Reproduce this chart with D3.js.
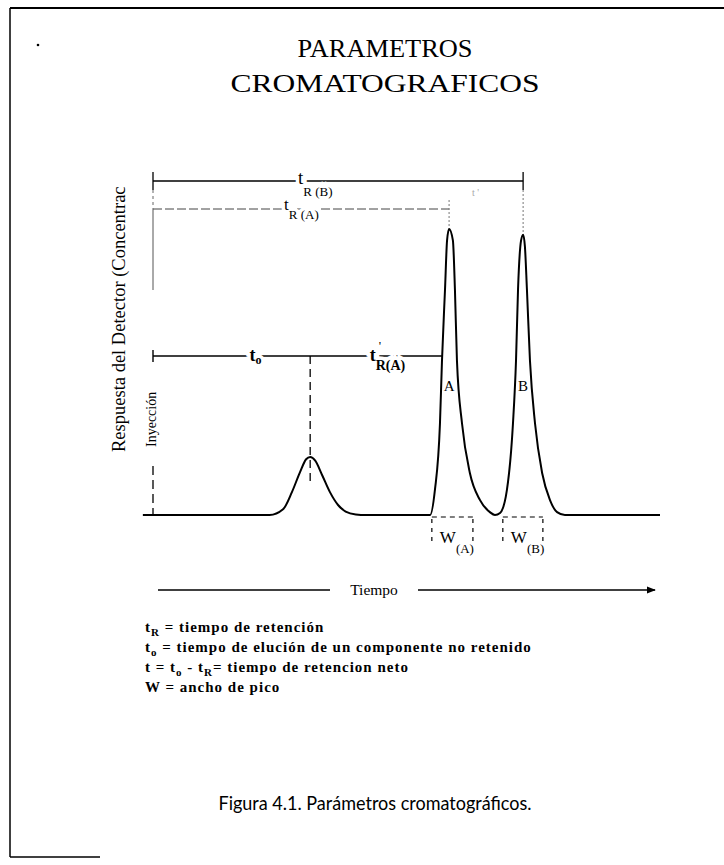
<!DOCTYPE html>
<html>
<head>
<meta charset="utf-8">
<script src="https://cdn.jsdelivr.net/npm/d3@7"></script>
<style>
  body { margin: 0; background: #fff; }
</style>
</head>
<body>
<div id="chart"></div>
<script>
// detector trace: time (arbitrary units) and response (% of peak A)
const traceTime = [-0.4, 4.6, 5.13, 5.48, 5.8, 6.04, 6.2, 6.4, 6.67, 6.98, 7.3, 7.6, 8.0, 8.4,
    10.73, 10.93, 11.12, 11.32, 11.40, 11.52, 11.60, 11.68, 11.83, 11.91, 11.99, 12.19, 12.50, 12.90, 13.29, 13.49,
    13.69, 13.96, 14.20, 14.32, 14.40, 14.52, 14.60, 14.67, 14.75, 14.87, 15.07, 15.35, 15.66, 15.94, 16.25, 20];
const traceResp = [0, 0, 2, 8, 15, 19.5, 20.3, 19, 14, 8, 3.5, 1.2, 0.2, 0,
    0, 0, 8.7, 32, 54, 79, 96, 100, 96, 79, 54, 32, 14.7, 5.2, 1, 0,
    0.7, 8.7, 32, 54, 79, 96, 98, 94, 79, 54, 32, 14.7, 5.2, 1, 0, 0];

// peaks: unretained component, A and B
const peakNames = ["o", "A", "B"];
const peakTimes = [6.2, 11.68, 14.6];
const peakHeights = [20.3, 100, 98];

// peak widths at the base (tangent intercepts)
const widthNames = ["A", "B"];
const widthStart = [11.0, 13.8];
const widthEnd = [12.62, 15.38];

const titleLines = ["PARAMETROS", "CROMATOGRAFICOS"];
const yLabel = "Respuesta del Detector (Concentración)";
const xLabel = "Tiempo";
const injectLabel = "Inyección";
const caption = "Figura 4.1. Parámetros cromatográficos.";

// legend: [text, isSubscript]
const legendLines = [
    [["t", 0], ["R", 1], [" = tiempo de retención", 0]],
    [["t", 0], ["o", 1], [" = tiempo de elución de un componente no retenido", 0]],
    [[" t  = t", 0], ["o", 1], [" - t", 0], ["R", 1], ["= tiempo de retencion neto", 0]],
    [["W =  ancho de pico", 0]]
];

const width = 724, height = 865;
const serif = "'Liberation Serif', 'Times New Roman', serif";

const svg = d3.select("#chart").append("svg")
    .attr("width", width)
    .attr("height", height);

const x = d3.scaleLinear().domain([0, 20]).range([153, 660]);
const y = d3.scaleLinear().domain([0, 100]).range([515, 229]);

// frame (scan has only top, left and a bit of bottom)
svg.append("line").attr("x1", 10).attr("y1", 8).attr("x2", 724).attr("y2", 8)
    .attr("stroke", "#000").attr("stroke-width", 2);
svg.append("line").attr("x1", 10).attr("y1", 8).attr("x2", 10).attr("y2", 857)
    .attr("stroke", "#000").attr("stroke-width", 1.5);
svg.append("line").attr("x1", 10).attr("y1", 857).attr("x2", 100).attr("y2", 857)
    .attr("stroke", "#000").attr("stroke-width", 1.5);
svg.append("circle").attr("cx", 38).attr("cy", 45).attr("r", 1.3).attr("fill", "#000");

// title
svg.selectAll(".title").data(titleLines).enter().append("text")
    .attr("class", "title")
    .attr("x", 385)
    .attr("y", (d, i) => 57 + i * 35)
    .attr("text-anchor", "middle")
    .attr("textLength", (d, i) => i == 0 ? 175 : 309)
    .attr("lengthAdjust", "spacingAndGlyphs")
    .style("font-family", serif)
    .style("font-size", "26px")
    .text(d => d);

// y label, cut at the top like the scan
svg.append("clipPath").attr("id", "ycut")
    .append("rect").attr("x", 90).attr("y", 186).attr("width", 50).attr("height", 300);
svg.append("g")
    .attr("clip-path", "url(#ycut)")
    .append("text")
    .attr("transform", "translate(125,452) rotate(-90)")
    .style("font-family", serif)
    .style("font-size", "18.5px")
    .text(yLabel);

// helper for "t" with a subscript, optional white halo drawn underneath
function subText(sel, px, py, main, sub, size, subSize, drop, halo, weight) {
    const layers = halo ? ["halo", "ink"] : ["ink"];
    let t;
    layers.forEach(layer => {
        t = sel.append("text")
            .attr("x", px).attr("y", py)
            .style("font-family", serif)
            .style("font-weight", weight || "normal")
            .style("font-size", size + "px");
        if (layer == "halo") t.attr("fill", "#fff").attr("stroke", "#fff").attr("stroke-width", 7);
        t.append("tspan").text(main);
        t.append("tspan").attr("dy", drop).style("font-size", subSize + "px").text(sub);
    });
    return t;
}

const tA = peakTimes[1], tB = peakTimes[2], t0 = peakTimes[0];

// retention brackets
const rbY = 181, raY = 209, t0Y = 356;
svg.append("line").attr("x1", x(0)).attr("x2", x(tB)).attr("y1", rbY).attr("y2", rbY)
    .attr("stroke", "#000").attr("stroke-width", 1.3);
svg.append("line").attr("x1", x(0)).attr("x2", x(tA)).attr("y1", raY).attr("y2", raY)
    .attr("stroke", "#444").attr("stroke-width", 1).attr("stroke-dasharray", "9,3");
svg.append("line").attr("x1", x(0)).attr("x2", x(11.4)).attr("y1", t0Y).attr("y2", t0Y)
    .attr("stroke", "#000").attr("stroke-width", 1.4);

// left ticks
svg.append("line").attr("x1", x(0)).attr("x2", x(0)).attr("y1", rbY - 9).attr("y2", rbY + 9)
    .attr("stroke", "#000").attr("stroke-width", 1.3);
svg.append("line").attr("x1", x(0)).attr("x2", x(0)).attr("y1", rbY + 9).attr("y2", raY)
    .attr("stroke", "#666").attr("stroke-width", 1).attr("stroke-dasharray", "3,3");
svg.append("line").attr("x1", x(0)).attr("x2", x(0)).attr("y1", raY).attr("y2", 290)
    .attr("stroke", "#555").attr("stroke-width", 1);
svg.append("line").attr("x1", x(0)).attr("x2", x(0)).attr("y1", t0Y - 6).attr("y2", t0Y + 6)
    .attr("stroke", "#000").attr("stroke-width", 1.4);

// guides from brackets to peak tops
svg.append("line").attr("x1", x(tB)).attr("x2", x(tB)).attr("y1", rbY - 9).attr("y2", rbY + 9)
    .attr("stroke", "#000").attr("stroke-width", 1.3);
svg.append("line").attr("x1", x(tB)).attr("x2", x(tB)).attr("y1", rbY + 9).attr("y2", y(peakHeights[2]))
    .attr("stroke", "#777").attr("stroke-width", 1).attr("stroke-dasharray", "2,2");
svg.append("line").attr("x1", x(tA)).attr("x2", x(tA)).attr("y1", raY - 9).attr("y2", y(peakHeights[1]))
    .attr("stroke", "#777").attr("stroke-width", 1).attr("stroke-dasharray", "2,2");

// bracket labels near the middle of each span
subText(svg, (x(0) + x(tB)) / 2 - 40, rbY + 3, "t", "R (B)", 19, 13, 12, true);
subText(svg, (x(0) + x(tA)) / 2 - 17, raY + 1, "t", "R (A)", 17, 13, 9, true);
subText(svg, (x(0) + x(t0)) / 2 + 18, t0Y + 5, "t", "o", 18, 12, 3, true, "bold");
subText(svg, (x(t0) + x(tA)) / 2 - 10, t0Y + 5, "t", "R(A)", 18, 14, 9, true, "bold");
svg.append("text").attr("x", (x(t0) + x(tA)) / 2 - 1).attr("y", t0Y - 6)
    .style("font-family", serif).style("font-size", "13px").text("'");

// faint mark above the peaks in the scan
svg.append("text").attr("x", 472).attr("y", 196).attr("fill", "#aaa")
    .style("font-family", serif).style("font-size", "10px").text("t   '");

// dashed drop from the unretained peak
svg.append("line").attr("x1", x(t0)).attr("x2", x(t0)).attr("y1", t0Y).attr("y2", 482)
    .attr("stroke", "#000").attr("stroke-width", 1.3).attr("stroke-dasharray", "8,5");

// injection mark
svg.append("line").attr("x1", x(0)).attr("x2", x(0)).attr("y1", 466).attr("y2", y(0))
    .attr("stroke", "#000").attr("stroke-width", 1.3).attr("stroke-dasharray", "9,5");
svg.append("text")
    .attr("transform", `translate(${x(0) + 3},447) rotate(-90)`)
    .style("font-family", serif)
    .style("font-size", "14px")
    .text(injectLabel);

// chromatogram trace
const trace = traceTime.map((t, i) => [t, traceResp[i]]);
const line = d3.line()
    .x(d => x(d[0]))
    .y(d => y(d[1]))
    .curve(d3.curveMonotoneX);
svg.append("path")
    .datum(trace)
    .attr("d", line)
    .attr("fill", "none")
    .attr("stroke", "#000")
    .attr("stroke-width", 2);

// peak letters
svg.selectAll(".peakname").data(peakNames.slice(1)).enter().append("text")
    .attr("class", "peakname")
    .attr("x", (d, i) => x(peakTimes[i + 1]))
    .attr("y", 391)
    .attr("text-anchor", "middle")
    .style("font-family", serif)
    .style("font-size", "15px")
    .text(d => d);

// peak widths
widthNames.forEach((n, i) => {
    const a = x(widthStart[i]), b = x(widthEnd[i]);
    svg.append("line").attr("x1", a).attr("x2", b).attr("y1", 517).attr("y2", 517)
        .attr("stroke", "#000").attr("stroke-width", 1.2).attr("stroke-dasharray", "5,4");
    [a, b].forEach(v => {
        svg.append("line").attr("x1", v).attr("x2", v).attr("y1", 519).attr("y2", 542)
            .attr("stroke", "#000").attr("stroke-width", 1.2).attr("stroke-dasharray", "4,5");
    });
    subText(svg, a + 8, 543, "W", "(" + n + ")", 17, 13, 10, false);
});

// time arrow
svg.append("defs").append("marker")
    .attr("id", "arrow")
    .attr("viewBox", "0 0 10 10")
    .attr("refX", 9).attr("refY", 5)
    .attr("markerWidth", 7).attr("markerHeight", 7)
    .attr("orient", "auto")
    .append("path").attr("d", "M0,1 L10,5 L0,9 Z").attr("fill", "#000");
svg.append("line").attr("x1", 158).attr("x2", 330).attr("y1", 590).attr("y2", 590)
    .attr("stroke", "#000").attr("stroke-width", 1.3);
svg.append("line").attr("x1", 418).attr("x2", 655).attr("y1", 590).attr("y2", 590)
    .attr("stroke", "#000").attr("stroke-width", 1.3).attr("marker-end", "url(#arrow)");
svg.append("text").attr("x", 374).attr("y", 595)
    .attr("text-anchor", "middle")
    .style("font-family", serif).style("font-size", "15.5px")
    .text(xLabel);

// legend
legendLines.forEach((parts, i) => {
    const t = svg.append("text")
        .attr("x", 145).attr("y", 632 + i * 20)
        .style("font-family", serif)
        .style("font-weight", "bold")
        .style("letter-spacing", "1px")
        .style("font-size", "15px");
    let down = false;
    parts.forEach(p => {
        const s = t.append("tspan").text(p[0]);
        if (p[1] && !down) { s.attr("dy", 4).style("font-size", "11px"); down = true; }
        else if (!p[1] && down) { s.attr("dy", -4); down = false; }
    });
});

// caption
svg.append("text")
    .attr("x", 375).attr("y", 810)
    .attr("text-anchor", "middle")
    .attr("textLength", 313)
    .attr("lengthAdjust", "spacingAndGlyphs")
    .style("font-family", "Lato, 'Open Sans', sans-serif")
    .style("font-size", "20px")
    .text(caption);
</script>
</body>
</html>
